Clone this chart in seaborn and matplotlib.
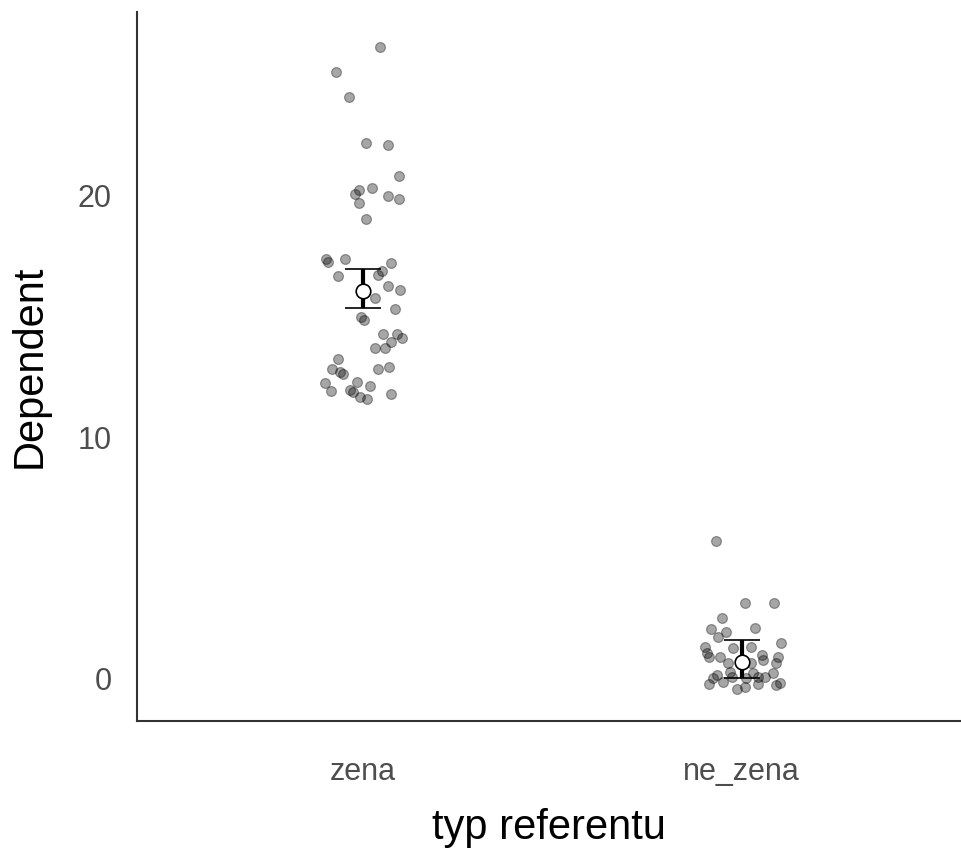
import matplotlib
matplotlib.use('Agg')
import matplotlib.pyplot as plt
import numpy as np
import pandas as pd
import seaborn as sns

# values
groups = ['zena', 'ne_zena']

zena_y = [26.13, 25.10, 24.06, 22.16, 22.08, 20.80, 20.28, 20.20, 20.03, 19.95,
          19.85, 19.68, 19.00, 17.35, 17.25, 17.34, 17.20, 16.67, 16.70, 16.85,
          16.24, 16.07, 15.73, 15.29, 14.95, 14.85, 14.26, 14.26, 14.08, 13.91,
          13.67, 13.67, 13.22, 12.81, 12.70, 12.60, 12.80, 12.88, 12.22, 11.91,
          12.26, 12.11, 11.95, 11.87, 11.67, 11.57, 11.78]
# horizontal jitter of each point (category units)
zena_jit = [0.046, -0.069, -0.036, 0.008, 0.068, 0.096, 0.024, -0.009, -0.020, 0.067,
            0.096, -0.009, 0.008, -0.097, -0.092, -0.047, 0.074, -0.064, 0.040, 0.052,
            0.068, 0.100, 0.032, 0.085, -0.004, 0.003, 0.053, 0.090, 0.103, 0.074,
            0.032, 0.059, -0.064, -0.080, -0.060, -0.052, 0.041, 0.069, -0.098, -0.084,
            -0.014, 0.019, -0.034, -0.026, -0.007, 0.011, 0.074]

ne_zena_y = [5.72, 3.15, 3.15, 2.53, 2.05, 1.96, 2.11, 1.75, 1.50, 1.27,
             1.31, 1.31, 1.09, 0.90, 0.92, 0.99, 0.92, 0.79, 0.65, 0.65,
             0.65, 0.30, 0.17, 0.26, 0.23, 0.03, -0.11, 0.07, 0.03, 0.07,
             0.07, -0.21, -0.43, -0.32, -0.21, -0.25, -0.15]
ne_zena_jit = [-0.068, 0.009, 0.086, -0.052, -0.081, -0.040, 0.036, -0.063, 0.103, -0.022,
               0.024, -0.097, -0.092, -0.085, -0.057, 0.055, 0.097, 0.057, 0.090, -0.035,
               0.026, -0.031, -0.066, 0.031, 0.083, -0.075, -0.049, -0.026, 0.013, 0.044,
               0.061, -0.085, -0.013, 0.009, 0.044, 0.092, 0.101]

# mean and error bar ends
means = [16.03, 0.69]
err_low = [15.32, 0.03]
err_high = [16.94, 1.61]

df = pd.DataFrame({
    'grp': ['zena'] * len(zena_y) + ['ne_zena'] * len(ne_zena_y),
    'jit': zena_jit + ne_zena_jit,
    'Dependent': zena_y + ne_zena_y,
})
df['xpos'] = df['grp'].map({g: i for i, g in enumerate(groups)}) + df['jit']

sns.set_style('white')
plt.rcParams['font.family'] = ['Liberation Sans', 'DejaVu Sans']

fig = plt.figure(figsize=(9.61, 8.55), dpi=100)
ax = fig.add_axes([0.1422, 0.1564, 0.8578, 0.8296])

sns.scatterplot(data=df, x='xpos', y='Dependent', color='black', alpha=0.35,
                s=50, edgecolor='black', linewidth=0.9, ax=ax, zorder=2)

xs = np.arange(len(groups))
m = np.array(means)
yerr = [m - np.array(err_low), np.array(err_high) - m]
ax.errorbar(xs, m, yerr=yerr, fmt='o', color='black', ecolor='black',
            elinewidth=3.0, capsize=13, capthick=3.0, markersize=10.5,
            markerfacecolor='white', markeredgecolor='black', markeredgewidth=1.2,
            zorder=3)

ax.set_xlim(-0.596, 1.579)
ax.set_ylim(-1.75, 27.57)
ax.set_xticks(xs)
ax.set_xticklabels(groups)
ax.set_yticks([0, 10, 20])

for side in ['top', 'right']:
    ax.spines[side].set_visible(False)
for side in ['left', 'bottom']:
    ax.spines[side].set_color('#333333')
    ax.spines[side].set_linewidth(1.5)

ax.tick_params(axis='both', length=7, width=1.8, color='#333333',
               labelsize=22, labelcolor='#4d4d4d')
ax.tick_params(axis='y', pad=11)
ax.tick_params(axis='x', pad=19)

ax.set_xlabel('typ referentu', fontsize=30, color='black', va='center')
ax.set_ylabel('Dependent', fontsize=30, color='black', va='center')
ax.xaxis.set_label_coords(0.5, -0.151)
ax.yaxis.set_label_coords(-0.1295, 0.5)

plt.savefig('out.png', dpi=100)
plt.close()
